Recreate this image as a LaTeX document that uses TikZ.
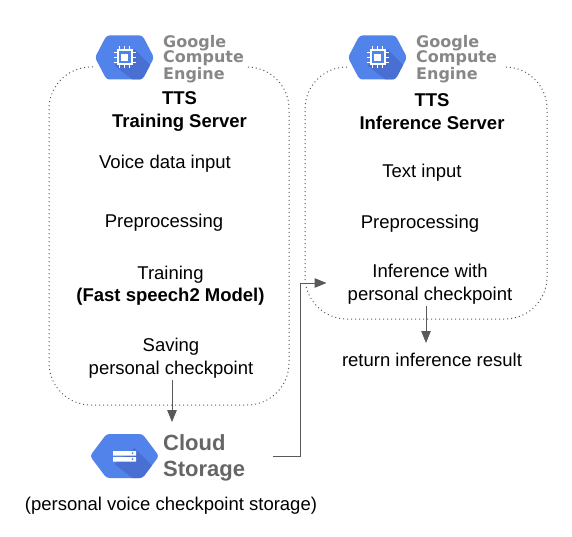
\documentclass[tikz,border=0pt]{standalone}
\usepackage{fontspec}
\setmainfont{Liberation Sans}
\newfontfamily\logofont{DejaVu Sans}
\usetikzlibrary{arrows.meta}
\definecolor{hexblue}{HTML}{5283EA}
\definecolor{hexshade}{HTML}{4A6FD2}
\definecolor{arrowgrey}{HTML}{595959}
\tikzset{
	stepnode/.style={align=center,inner sep=2pt,font=\fontsize{18.5}{22.5}\selectfont},
	titlenode/.style={stepnode,font=\fontsize{18.5}{22.5}\selectfont\bfseries},
	enginenode/.style={align=left,anchor=west,inner sep=0pt,text=black!47,font=\logofont\fontsize{16}{15.4}\selectfont\bfseries},
	cloudnode/.style={align=left,anchor=west,inner sep=0pt,text=black!60,font=\fontsize{22}{25.5}\selectfont\bfseries},
	serverframe/.style={draw=black!65,line width=1pt,dash pattern=on 1pt off 3pt,rounded corners=42pt},
	flowline/.style={draw=arrowgrey,line width=1pt,-{Triangle[length=12pt,width=9.5pt]}},
}
% hexagon behind the logos: #1 name, #2 centre, #3 half width
\newcommand{\hexlogo}[3]{
	\node (#1) at (#2) [minimum width=2*#3 pt,minimum height=44pt,inner sep=0pt] {};
	\begin{scope}[shift={(#2)}]
		\begin{scope}
			\clip[rounded corners=3pt] (-#3,0) -- (-18,-22) -- (18,-22) -- (#3,0) -- (18,22) -- (-18,22) -- cycle;
			\fill[hexblue] (-40,-30) rectangle (40,30);
			\fill[hexshade] (10,-8) -- (40,22) -- (40,30) -- (18,30) -- (-10,8) -- cycle;
		\end{scope}
	\end{scope}
}
\begin{document}
\begin{tikzpicture}[x=1pt,y=-1pt]
\useasboundingbox (0,0) rectangle (572,537);

% server frames
\draw[serverframe] (93,67) -- (49,67) -- (49,405) -- (289,405) -- (289,67) -- (249,67);
\draw[serverframe] (347,67) -- (305,67) -- (305,319) -- (547,319) -- (547,67) -- (503,67);

% logos
\hexlogo{trainhex}{124.5,57.5}{29.5}
\hexlogo{inferhex}{377.5,57.5}{29.5}
\hexlogo{cloudhex}{124.5,456}{34.5}
\foreach \cx in {124.5,377.5}{
	\begin{scope}[shift={(\cx,57.5)}]
		\foreach \p in {-5,0,5}{
			\draw[white,line width=1.2pt] (\p,-11) -- (\p,11);
			\draw[white,line width=1.2pt] (-11,\p) -- (11,\p);
		}
		\fill[white] (-8,-8) rectangle (8,8);
		\fill[hexblue] (-6,-6) rectangle (6,6);
		\fill[white] (-3.5,-3.5) rectangle (3.5,3.5);
	\end{scope}
}
\fill[white] (113,451) rectangle (136,455.5) (113,457) rectangle (136,461.5);
\fill[hexblue] (132.5,453.2) circle (1pt) (132.5,459.2) circle (1pt);

\node[enginenode] (trainengine) at (163,59) {Google\\Compute\\Engine};
\node[enginenode] (inferengine) at (416,59) {Google\\Compute\\Engine};
\node[cloudnode] (cloudlabel) at (163,458) {Cloud\\Storage};

% training server
\node[titlenode] (traintitle) at (179.5,111.5) {TTS\\Training Server};
\node[stepnode] (voice) at (165,163.5) {Voice data input};
\node[stepnode] (trainprep) at (164,222.5) {Preprocessing};
\node[stepnode] (training) at (170.5,285.5) {Training\\\textbf{(Fast speech2 Model)}};
\node[stepnode] (saving) at (171,358) {Saving\\personal checkpoint};
\node[stepnode] (storagenote) at (171,505.5) {(personal voice checkpoint storage)};

% inference server
\node[titlenode] (infertitle) at (432,111.5) {TTS\\Inference Server};
\node[stepnode] (textin) at (422,172.5) {Text input};
\node[stepnode] (inferprep) at (420,223.5) {Preprocessing};
\node[stepnode] (infer) at (430,284) {Inference with\\personal checkpoint};
\node[stepnode] (result) at (432,359.5) {return inference result};

\coordinate (storagein) at (172,422);
\coordinate (resultin) at (426,343);
\coordinate (riser) at (300,283);

\draw[flowline] (saving.south -| storagein) -- (storagein);
\draw[flowline] (infer.south -| resultin) -- (resultin);
\draw[flowline,shorten <=28pt,shorten >=19pt]
(cloudlabel.east |- cloudhex) -- (cloudhex -| riser) -- (riser) -- (riser -| infer.west);
\end{tikzpicture}
\end{document}
